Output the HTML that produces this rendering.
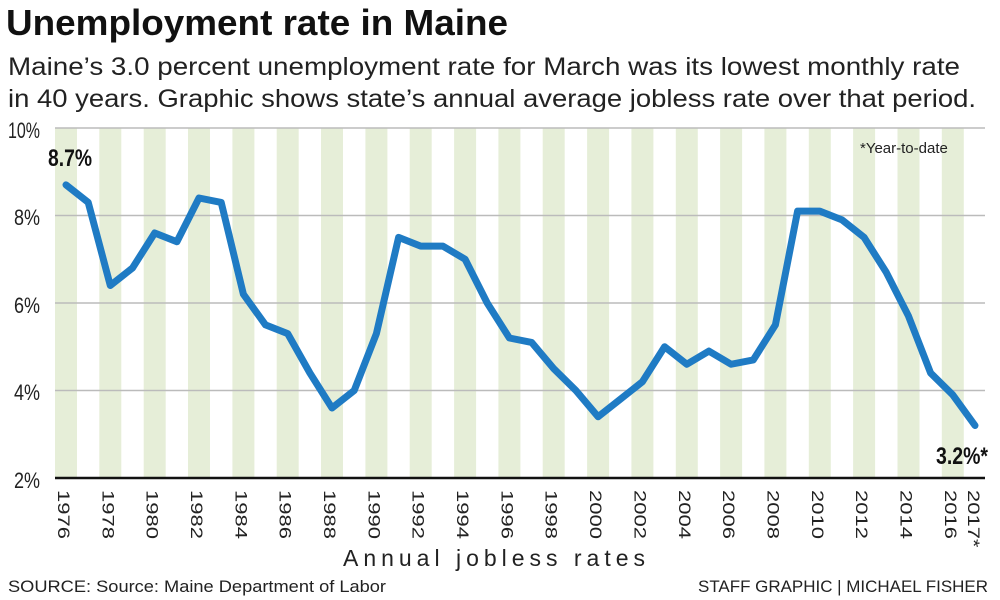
<!DOCTYPE html>
<html><head><style>body{margin:0;background:#fff}svg{display:block}</style></head><body>
<svg width="1000" height="600" xmlns="http://www.w3.org/2000/svg" font-family="Liberation Sans, sans-serif">
<rect width="1000" height="600" fill="#fff"/>
<text x="6" y="35" font-size="36" font-weight="bold" fill="#111" textLength="502" lengthAdjust="spacingAndGlyphs">Unemployment rate in Maine</text>
<text x="8" y="75" font-size="25" fill="#222" textLength="952" lengthAdjust="spacingAndGlyphs">Maine’s 3.0 percent unemployment rate for March was its lowest monthly rate</text>
<text x="8" y="107" font-size="25" fill="#222" textLength="968" lengthAdjust="spacingAndGlyphs">in 40 years. Graphic shows state’s annual average jobless rate over that period.</text>
<g fill="#e6eed8">
<rect x="55" y="128" width="22" height="350"/><rect x="99.3" y="128" width="22" height="350"/><rect x="143.7" y="128" width="22" height="350"/><rect x="188" y="128" width="22" height="350"/><rect x="232.4" y="128" width="22" height="350"/><rect x="276.7" y="128" width="22" height="350"/><rect x="321" y="128" width="22" height="350"/><rect x="365.4" y="128" width="22" height="350"/><rect x="409.7" y="128" width="22" height="350"/><rect x="454.1" y="128" width="22" height="350"/><rect x="498.4" y="128" width="22" height="350"/><rect x="542.7" y="128" width="22" height="350"/><rect x="587.1" y="128" width="22" height="350"/><rect x="631.4" y="128" width="22" height="350"/><rect x="675.8" y="128" width="22" height="350"/><rect x="720.1" y="128" width="22" height="350"/><rect x="764.4" y="128" width="22" height="350"/><rect x="808.8" y="128" width="22" height="350"/><rect x="853.1" y="128" width="22" height="350"/><rect x="897.5" y="128" width="22" height="350"/><rect x="941.8" y="128" width="22" height="350"/>
</g>
<g stroke="#bbb" stroke-width="1.5">
<line x1="55" x2="985" y1="128" y2="128"/><line x1="55" x2="985" y1="215.5" y2="215.5"/><line x1="55" x2="985" y1="303" y2="303"/><line x1="55" x2="985" y1="390.5" y2="390.5"/>
</g>
<line x1="55" x2="985" y1="478" y2="478" stroke="#111" stroke-width="2.5"/>
<g font-size="22" fill="#222">
<text x="8" y="138" textLength="32" lengthAdjust="spacingAndGlyphs">10%</text>
<text x="14" y="225" textLength="26" lengthAdjust="spacingAndGlyphs">8%</text><text x="14" y="313" textLength="26" lengthAdjust="spacingAndGlyphs">6%</text><text x="14" y="400" textLength="26" lengthAdjust="spacingAndGlyphs">4%</text><text x="14" y="488" textLength="26" lengthAdjust="spacingAndGlyphs">2%</text>
</g>
<polyline fill="none" stroke="#1f7bc4" stroke-width="7" stroke-linejoin="round" stroke-linecap="round" points="66,184.9 88.2,202.4 110.3,285.5 132.5,268 154.7,233 176.9,241.75 199,198 221.2,202.4 243.4,294.25 265.5,324.9 287.7,333.6 309.9,373 332,408 354.2,390.5 376.4,333.6 398.6,237.4 420.7,246.1 442.9,246.1 465.1,259.25 487.2,303 509.4,338 531.6,342.4 553.7,368.6 575.9,390.5 598.1,416.75 620.3,399.25 642.4,381.75 664.6,346.75 686.8,364.25 708.9,351.1 731.1,364.25 753.3,359.9 775.4,324.9 797.6,211.1 819.8,211.1 842,219.9 864.1,237.4 886.3,272.4 908.5,316.1 930.6,373 952.8,394.9 975,425.5"/>
<text x="48" y="166" font-size="24" font-weight="bold" fill="#111" textLength="44" lengthAdjust="spacingAndGlyphs">8.7%</text>
<text x="936" y="464" font-size="24" font-weight="bold" fill="#111" textLength="52" lengthAdjust="spacingAndGlyphs">3.2%*</text>
<text x="860" y="153" font-size="15" fill="#222">*Year-to-date</text>
<g font-size="22" fill="#222">
<text transform="translate(58,490) rotate(90) scale(1,0.75)">1976</text>
<text transform="translate(102.3,490) rotate(90) scale(1,0.75)">1978</text>
<text transform="translate(146.7,490) rotate(90) scale(1,0.75)">1980</text>
<text transform="translate(191,490) rotate(90) scale(1,0.75)">1982</text>
<text transform="translate(235.4,490) rotate(90) scale(1,0.75)">1984</text>
<text transform="translate(279.7,490) rotate(90) scale(1,0.75)">1986</text>
<text transform="translate(324,490) rotate(90) scale(1,0.75)">1988</text>
<text transform="translate(368.4,490) rotate(90) scale(1,0.75)">1990</text>
<text transform="translate(412.7,490) rotate(90) scale(1,0.75)">1992</text>
<text transform="translate(457.1,490) rotate(90) scale(1,0.75)">1994</text>
<text transform="translate(501.4,490) rotate(90) scale(1,0.75)">1996</text>
<text transform="translate(545.7,490) rotate(90) scale(1,0.75)">1998</text>
<text transform="translate(590.1,490) rotate(90) scale(1,0.75)">2000</text>
<text transform="translate(634.4,490) rotate(90) scale(1,0.75)">2002</text>
<text transform="translate(678.8,490) rotate(90) scale(1,0.75)">2004</text>
<text transform="translate(723.1,490) rotate(90) scale(1,0.75)">2006</text>
<text transform="translate(767.4,490) rotate(90) scale(1,0.75)">2008</text>
<text transform="translate(811.8,490) rotate(90) scale(1,0.75)">2010</text>
<text transform="translate(856.1,490) rotate(90) scale(1,0.75)">2012</text>
<text transform="translate(900.5,490) rotate(90) scale(1,0.75)">2014</text>
<text transform="translate(944.8,490) rotate(90) scale(1,0.75)">2016</text>
<text transform="translate(968,490) rotate(90) scale(1,0.75)">2017*</text>
</g>
<text x="343" y="566" font-size="23" fill="#222" textLength="302" lengthAdjust="spacing">Annual jobless rates</text>
<text x="8" y="592" font-size="17" fill="#222" textLength="378" lengthAdjust="spacingAndGlyphs">SOURCE: Source: Maine Department of Labor</text>
<text x="698" y="592" font-size="17" fill="#222" textLength="290" lengthAdjust="spacingAndGlyphs">STAFF GRAPHIC | MICHAEL FISHER</text>
</svg>
</body></html>
